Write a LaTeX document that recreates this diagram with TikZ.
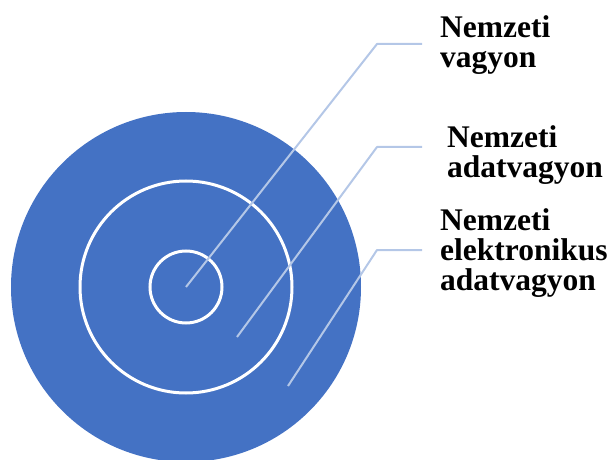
\documentclass[tikz,border=0pt]{standalone}
\usepackage{fontspec}
\setmainfont{Liberation Serif}
\usetikzlibrary{positioning}
\definecolor{ringblue}{HTML}{4472C4}
\definecolor{leadgray}{HTML}{B4C7E7}

\begin{document}
\begin{tikzpicture}[x=1pt, y=-1pt,
        disc/.style={circle, fill=ringblue, inner sep=0pt, minimum size=350pt},
        ring/.style={circle, draw=white, line width=3pt, inner sep=0pt},
        lbl/.style={anchor=base west, align=left, inner sep=0pt, font=\bfseries\fontsize{31.5}{30}\selectfont},
        leadline/.style={draw=leadgray, line width=2pt, line join=round}
    ]
    \useasboundingbox (0,0) rectangle (614,460);
%
    % Circles
    \node[disc] (outer) at (186,287) {};
    \node[ring, minimum size=212pt] (middle) at (outer.center) {};
    \node[ring, minimum size=72pt] (inner) at (outer.center) {};
%
    % Labels (anchored on the last line)
    \node[lbl] (vagyon) at (440,68) {Nemzeti\\vagyon};
    \node[lbl] (adat) at (447,177) {Nemzeti\\adatvagyon};
    \node[lbl] (elektr) at (440,290) {Nemzeti\\elektronikus\\adatvagyon};
%
    % Leader lines
    \coordinate (s1) at (outer.center);
    \coordinate (s2) at (237,337);
    \coordinate (s3) at (288,386);
    \coordinate (k1) at (377,44);
    \coordinate (k2) at (377,147);
    \coordinate (k3) at (377,250);
    \coordinate (e1) at (422,44);
    \coordinate (e2) at (422,147);
    \coordinate (e3) at (422,250);
    \draw[leadline] (s1) -- (k1) -- (e1);
    \draw[leadline] (s2) -- (k2) -- (e2);
    \draw[leadline] (s3) -- (k3) -- (e3);
%
\end{tikzpicture}
\end{document}
